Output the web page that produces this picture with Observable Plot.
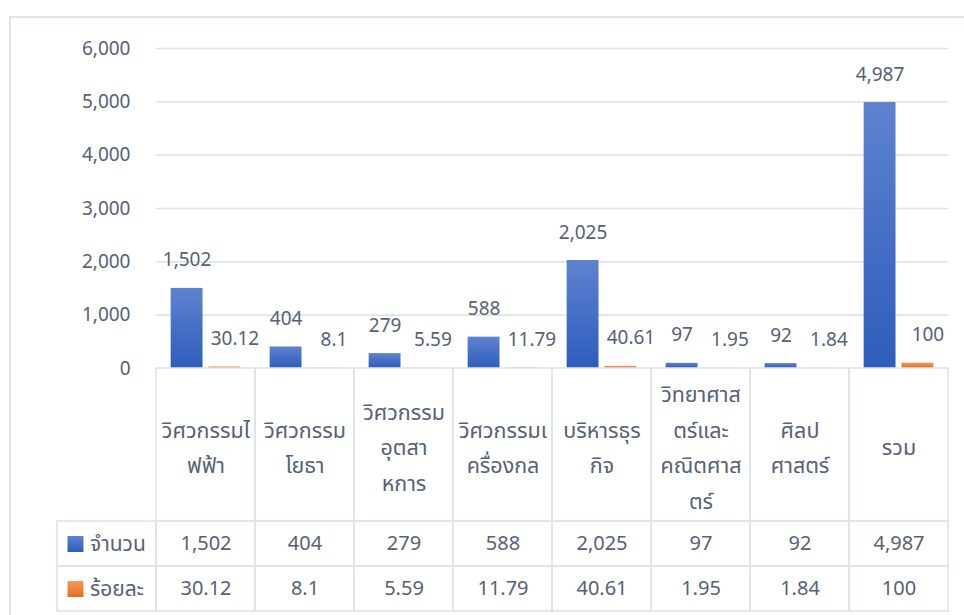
<!DOCTYPE html>
<html>
<head>
<meta charset="utf-8">
<script src="https://cdn.jsdelivr.net/npm/d3@7"></script>
<script src="https://cdn.jsdelivr.net/npm/@observablehq/plot@0.6"></script>
<style>
  html, body { margin: 0; padding: 0; background: #ffffff; }
  #wrap { position: relative; width: 964px; height: 615px; overflow: hidden; }
  #border { position: absolute; left: 9px; top: 16px; width: 1200px; height: 800px;
            border-left: 2px solid #dfe3ea; border-top: 2px solid #dfe3ea; }
  #chart, #table { position: absolute; left: 0; }
  #chart { top: 0; }
  #table { top: 367px; }
</style>
</head>
<body>
<div id="wrap">
  <div id="border"></div>
  <svg width="0" height="0" style="position:absolute">
    <defs>
      <linearGradient id="gBlue" x1="0" y1="0" x2="0" y2="1">
        <stop offset="0" stop-color="#5e82cf"/>
        <stop offset="1" stop-color="#2d5dbd"/>
      </linearGradient>
      <linearGradient id="gOrange" x1="0" y1="0" x2="0" y2="1">
        <stop offset="0" stop-color="#f39a60"/>
        <stop offset="1" stop-color="#ea6b1b"/>
      </linearGradient>
    </defs>
  </svg>
  <div id="chart"></div>
  <div id="table"></div>
</div>
<script>
// ---- data ----
const categories = ["วิศวกรรมไฟฟ้า", "วิศวกรรมโยธา", "วิศวกรรมอุตสาหการ", "วิศวกรรมเครื่องกล",
                    "บริหารธุรกิจ", "วิทยาศาสตร์และคณิตศาสตร์", "ศิลปศาสตร์", "รวม"];
const categoryLabels = ["วิศวกรรมไ\nฟฟ้า", "วิศวกรรม\nโยธา", "วิศวกรรม\nอุตสา\nหการ", "วิศวกรรมเ\nครื่องกล",
                        "บริหารธุร\nกิจ", "วิทยาศาส\nตร์และ\nคณิตศาส\nตร์", "ศิลป\nศาสตร์", "รวม"];
const seriesNames = ["จำนวน", "ร้อยละ"];
const counts = [1502, 404, 279, 588, 2025, 97, 92, 4987];
const percents = [30.12, 8.1, 5.59, 11.79, 40.61, 1.95, 1.84, 100];
const yTicks = [0, 1000, 2000, 3000, 4000, 5000, 6000];

// ---- styling ----
const font = "'Noto Sans Thai', 'Leelawadee UI', Tahoma, 'Noto Sans', sans-serif";
const textColor = "#566275";
const lineColor = "#dfe3ea";
const seriesFill = {"จำนวน": "url(#gBlue)", "ร้อยละ": "url(#gOrange)"};
const fmtCount = d3.format(",");

const rows = categories.flatMap((c, i) => [
  {cat: c, series: seriesNames[0], value: counts[i], label: fmtCount(counts[i])},
  {cat: c, series: seriesNames[1], value: percents[i], label: String(percents[i])}
]);

// ---- chart ----
const chart = Plot.plot({
  width: 964, height: 369,
  marginTop: 48, marginBottom: 1, marginLeft: 154, marginRight: 15,
  style: {fontFamily: font, fontSize: "19px", color: textColor, background: "transparent", overflow: "visible"},
  fx: {domain: categories, padding: 0, axis: null},
  x: {domain: seriesNames, paddingInner: 0.158, paddingOuter: 0.387, axis: null, round: false},
  y: {domain: [0, 6000], axis: null},
  marks: [
    Plot.gridY(yTicks.slice(1), {stroke: lineColor, strokeOpacity: 1, strokeWidth: 1.6}),
    Plot.axisY(yTicks, {tickFormat: d3.format(","), tickSize: 0, tickPadding: 26, fontSize: 19, fill: textColor, label: null}),
    Plot.barY(rows.filter(d => d.series === seriesNames[0]), {fx: "cat", x: "series", y: "value", fill: seriesFill[seriesNames[0]]}),
    Plot.barY(rows.filter(d => d.series === seriesNames[1]), {fx: "cat", x: "series", y: "value", fill: seriesFill[seriesNames[1]]}),
    Plot.text(rows.filter(d => d.series === seriesNames[0]), {fx: "cat", x: "series", y: "value", text: "label",
      dy: -28, lineAnchor: "middle", fontSize: 19, fill: textColor}),
    Plot.text(rows.filter(d => d.series === seriesNames[1]), {fx: "cat", x: "series", y: "value", text: "label",
      dx: 10, dy: -28, lineAnchor: "middle", fontSize: 19, fill: textColor})
  ]
});
document.getElementById("chart").append(chart);

// ---- data table ----
const legendKey = "__legend";
const rowBand = {labels: [0, 153], [seriesNames[0]]: [153, 198], [seriesNames[1]]: [198, 243]};
const rowCenter = k => (rowBand[k][0] + rowBand[k][1]) / 2;
const cells = [
  ...categories.flatMap(c => ["labels", ...seriesNames].map(k => ({col: c, y1: rowBand[k][0], y2: rowBand[k][1]}))),
  ...seriesNames.map(k => ({col: legendKey, y1: rowBand[k][0], y2: rowBand[k][1]}))
];

const table = Plot.plot({
  width: 964, height: 248,
  marginTop: 1, marginBottom: 4, marginLeft: 55, marginRight: 15,
  style: {fontFamily: font, fontSize: "20px", color: textColor, background: "transparent", overflow: "visible"},
  x: {domain: [legendKey, ...categories], padding: 0, axis: null},
  y: {domain: [0, 243], reverse: true, axis: null},
  marks: [
    Plot.barY(cells, {x: "col", y1: "y1", y2: "y2", fill: "none", stroke: lineColor, strokeWidth: 1.6}),
    Plot.text(categories, {x: d => d, y: () => rowCenter("labels") - 1, text: (d, i) => categoryLabels[i],
      lineAnchor: "middle", lineHeight: 1.66, fontSize: 21.5, fill: textColor}),
    Plot.text(rows, {x: "cat", y: d => rowCenter(d.series), text: "label", lineAnchor: "middle", fontSize: 20, fill: textColor}),
    Plot.dot(seriesNames, {x: () => legendKey, y: d => rowCenter(d), symbol: "square", r: 9, dx: -31.5,
      fill: d => seriesFill[d], stroke: null}),
    Plot.text(seriesNames, {x: () => legendKey, y: d => rowCenter(d), text: d => d, textAnchor: "start",
      dx: -17, lineAnchor: "middle", fontSize: 21, fill: textColor})
  ]
});
document.getElementById("table").append(table);
</script>
</body>
</html>
